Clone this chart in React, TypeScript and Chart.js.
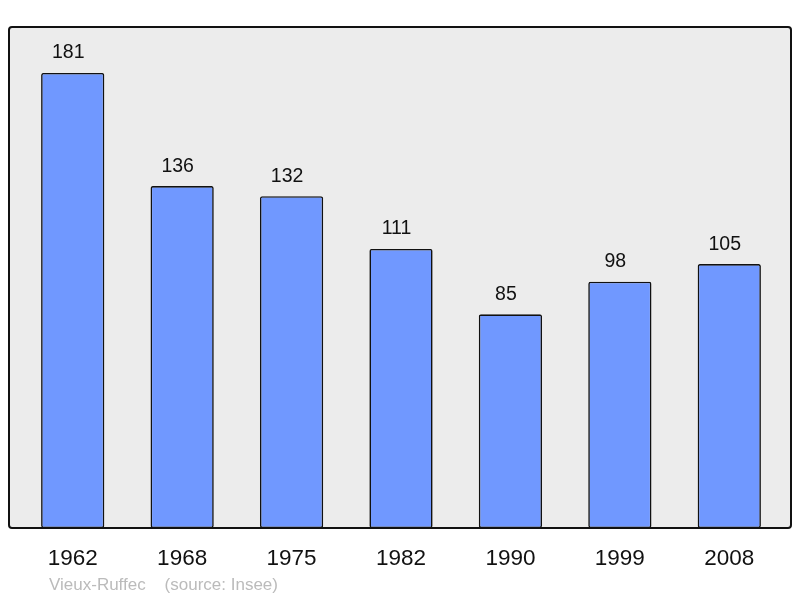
import React, { useEffect, useRef } from "react";
import { Chart, registerables } from "chart.js";

Chart.register(...registerables);

const years = ["1962", "1968", "1975", "1982", "1990", "1999", "2008"];
const population = [181, 136, 132, 111, 85, 98, 105];
const footerText = "Vieux-Ruffec    (source: Insee)";

const FONT = "'Liberation Sans', Arial, sans-serif";

const framePlugin = {
  id: "frame",
  beforeDraw(chart: any) {
    const ctx = chart.ctx;
    ctx.save();
    ctx.beginPath();
    ctx.roundRect(9, 27, 782, 501, 3);
    ctx.fillStyle = "#ececec";
    ctx.fill();
    ctx.restore();
  },
  afterDatasetsDraw(chart: any) {
    const ctx = chart.ctx;
    ctx.save();
    ctx.beginPath();
    ctx.roundRect(9, 27, 782, 501, 3);
    ctx.lineWidth = 2;
    ctx.strokeStyle = "#111111";
    ctx.stroke();
    const meta = chart.getDatasetMeta(0);
    ctx.font = `19.5px ${FONT}`;
    ctx.fillStyle = "#111111";
    ctx.textAlign = "center";
    ctx.textBaseline = "alphabetic";
    meta.data.forEach((bar: any, i: number) => {
      ctx.fillText(String(population[i]), bar.x - 4.5, bar.y - 14.5);
    });
    ctx.font = `17px ${FONT}`;
    ctx.fillStyle = "#bbbbbb";
    ctx.textAlign = "left";
    ctx.fillText(footerText, 49, 590);
    ctx.restore();
  },
};

export default function App() {
  const ref = useRef<HTMLCanvasElement>(null);
  useEffect(() => {
    if (!ref.current) return;
    const chart = new Chart(ref.current, {
      type: "bar",
      data: {
        labels: years,
        datasets: [
          {
            data: population,
            backgroundColor: "#7098ff",
            borderColor: "#111111",
            borderWidth: 1.6,
            borderRadius: 2,
            borderSkipped: false,
            categoryPercentage: 1,
            barPercentage: 0.578,
          },
        ],
      },
      options: {
        animation: false,
        responsive: false,
        maintainAspectRatio: false,
        layout: { padding: { left: 18, right: 16, top: 25.2, bottom: 0 } },
        plugins: {
          legend: { display: false },
          tooltip: { enabled: false },
          title: { display: false },
        },
        scales: {
          y: {
            display: false,
            min: 0,
            max: 200,
          },
          x: {
            grid: { display: false, drawTicks: false },
            border: { display: false },
            ticks: {
              color: "#111111",
              font: { size: 22.5, family: FONT },
              padding: 17,
              maxRotation: 0,
            },
            afterFit: (scale: any) => {
              scale.height = 70;
            },
          },
        },
      },
      plugins: [framePlugin],
    });
    return () => chart.destroy();
  }, []);
  return (
    <div style={{ position: "absolute", left: 0, top: 0, width: 800, height: 598 }}>
      <canvas ref={ref} width={800} height={598} style={{ display: "block" }} />
    </div>
  );
}
